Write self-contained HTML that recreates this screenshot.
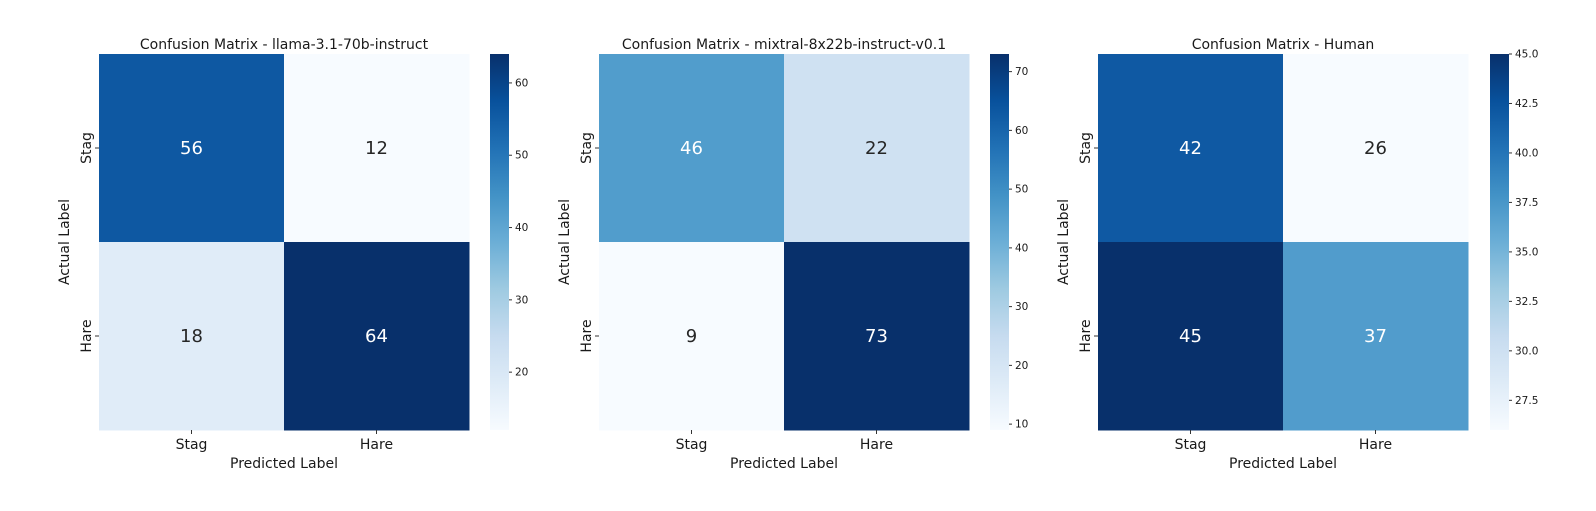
<!DOCTYPE html>
<html><head><meta charset="utf-8"><style>
body{margin:0;background:#fff;}
svg text{font-family:"DejaVu Sans","Liberation Sans",sans-serif;fill:#1a1a1a;}
</style></head><body>
<svg id="fig" width="1596" height="506" xmlns="http://www.w3.org/2000/svg"></svg>
<script>
const titles = ["Confusion Matrix - llama-3.1-70b-instruct","Confusion Matrix - mixtral-8x22b-instruct-v0.1","Confusion Matrix - Human"];
const categories = ["Stag","Hare"];
const llamaValues = [[56,12],[18,64]];
const mixtralValues = [[46,22],[9,73]];
const humanValues = [[42,26],[45,37]];
const llamaTicks = ["20","30","40","50","60"];
const mixtralTicks = ["10","20","30","40","50","60","70"];
const humanTicks = ["27.5","30.0","32.5","35.0","37.5","40.0","42.5","45.0"];

const panels = [
 {vals:llamaValues, ticks:llamaTicks, hx:99, w:370, cbx:490},
 {vals:mixtralValues, ticks:mixtralTicks, hx:599, w:370, cbx:990},
 {vals:humanValues, ticks:humanTicks, hx:1098, w:370, cbx:1490}
];
const stops=["#f7fbff","#deebf7","#c6dbef","#9ecae1","#6baed6","#4292c6","#2171b5","#08519c","#08306b"];
function hex(h){return [1,3,5].map(i=>parseInt(h.substr(i,2),16));}
function blues(t){t=Math.max(0,Math.min(1,t));const p=t*8,i=Math.min(7,Math.floor(p)),f=p-i;const a=hex(stops[i]),b=hex(stops[i+1]);return a.map((v,k)=>Math.round(v+(b[k]-v)*f));}
function rgb(c){return `rgb(${c[0]},${c[1]},${c[2]})`;}
function lum(c){const l=c.map(v=>{v/=255;return v<=0.03928?v/12.92:Math.pow((v+0.055)/1.055,2.4)});return 0.2126*l[0]+0.7152*l[1]+0.0722*l[2];}
const NS="http://www.w3.org/2000/svg";
const svg=document.getElementById('fig');
function el(tag,attrs,parent,text){const e=document.createElementNS(NS,tag);for(const k in attrs)e.setAttribute(k,attrs[k]);if(text!==undefined)e.textContent=text;(parent||svg).appendChild(e);return e;}
const topY=54,H=376,cbw=19;
panels.forEach((p,pi)=>{
  const W=p.w;
  const g=el('g',{});
  
  
  const flat=p.vals.flat();const mn=Math.min(...flat),mx=Math.max(...flat);
  const x=j=>p.hx+j*W/2, y=i=>topY+i*H/2;
  const t=el('text',{x:p.hx+W/2,y:49,'text-anchor':'middle','font-size':14},g,titles[pi]);
  
  
  p.vals.forEach((row,i)=>row.forEach((v,j)=>{
    const c=blues((v-mn)/(mx-mn));
    const r=el('rect',{x:x(j),y:y(i),width:W/2+0.5,height:H/2+0.5,fill:rgb(c)},g);
    
    
    const tx=el('text',{x:x(j)+W/4,y:y(i)+H/4+6,'text-anchor':'middle','font-size':18,style:'fill:'+(lum(c)<0.408?'#fff':'#262626')},g,String(v));
    
    
  }));
  categories.forEach((c,k)=>{
    const cx=x(k)+W/4, cy=y(k)+H/4;
    el('line',{x1:cx,x2:cx,y1:topY+H,y2:topY+H+4,stroke:'#333'},g);
    const xl=el('text',{x:cx,y:topY+H+19,'text-anchor':'middle','font-size':14},g,c);
    
    
    el('line',{x1:p.hx-4,x2:p.hx,y1:cy,y2:cy,stroke:'#333'},g);
    const yl=el('text',{x:0,y:0,'text-anchor':'middle','font-size':14,transform:`translate(${p.hx-8},${cy}) rotate(-90)`},g,c);
    
    
  });
  const xt=el('text',{x:p.hx+W/2,y:topY+H+38,'text-anchor':'middle','font-size':14},g,'Predicted Label');
  
  
  const yt=el('text',{x:0,y:0,'text-anchor':'middle','font-size':14,transform:`translate(${p.hx-30},${topY+H/2}) rotate(-90)`},g,'Actual Label');
  
  
  const gid='grad'+pi;
  const defs=el('defs',{},g);
  const lg=el('linearGradient',{id:gid,x1:0,y1:1,x2:0,y2:0},defs);
  stops.forEach((s,k)=>el('stop',{offset:k/8,'stop-color':s},lg));
  const cb=el('rect',{x:p.cbx,y:topY,width:cbw,height:H,fill:`url(#${gid})`},g);
  
  
  p.ticks.forEach(tk=>{
    const v=parseFloat(tk);const ty=topY+H-(v-mn)/(mx-mn)*H;
    el('line',{x1:p.cbx+cbw,x2:p.cbx+cbw+3,y1:ty,y2:ty,stroke:'#333'},g);
    const tl=el('text',{x:p.cbx+cbw+6,y:ty+3.5,'font-size':10.5},g,tk);
    
    
  });
});
</script>
</body></html>
